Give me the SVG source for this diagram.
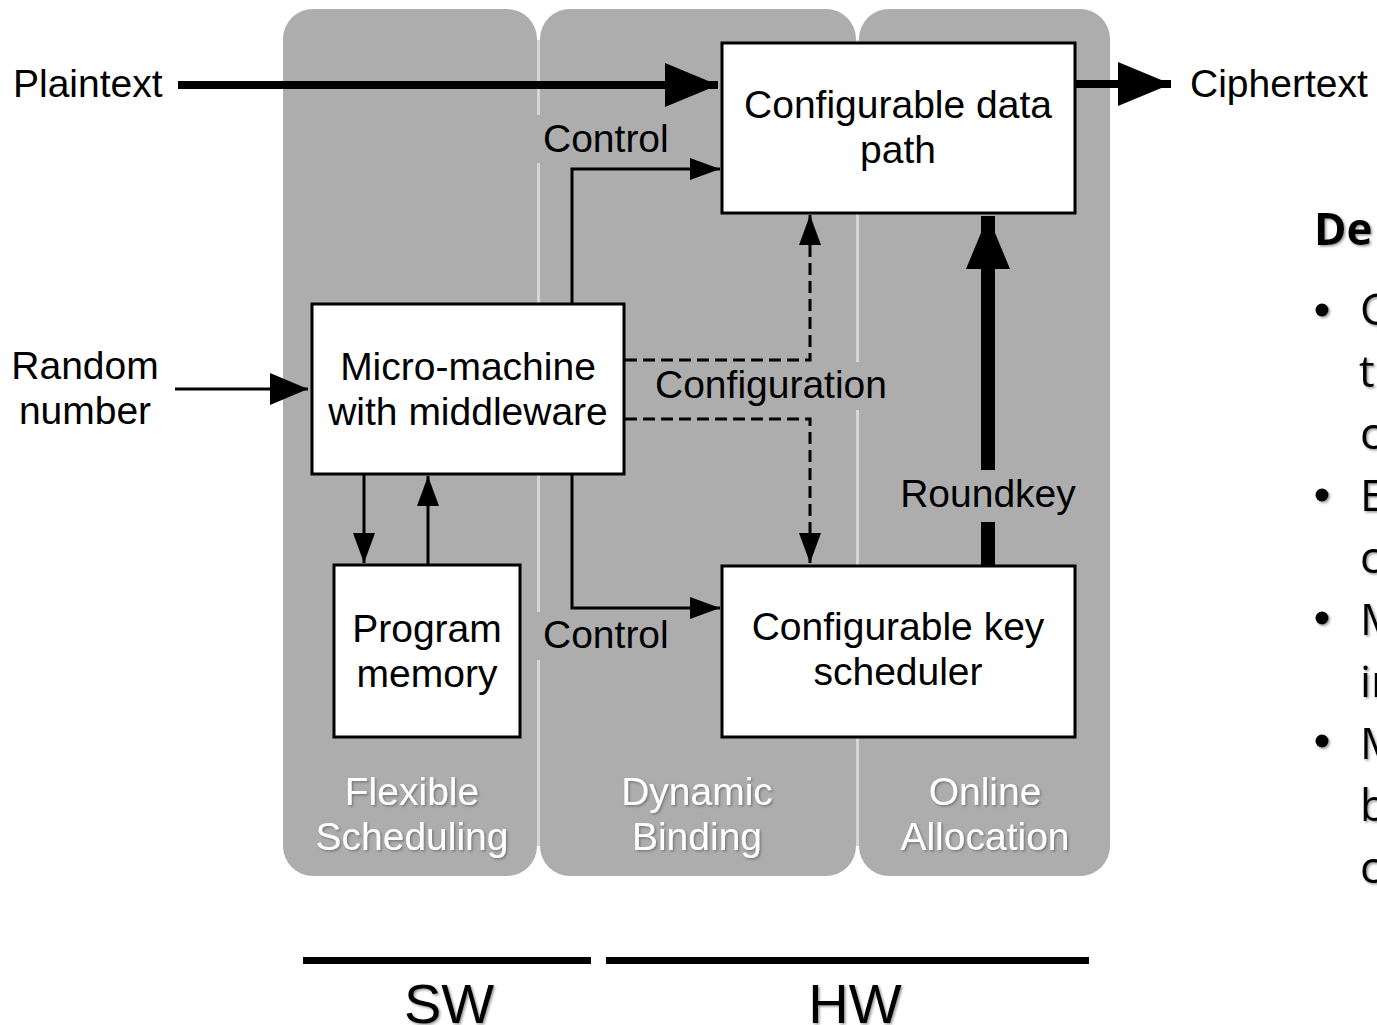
<svg xmlns="http://www.w3.org/2000/svg" width="1377" height="1025" viewBox="0 0 1377 1025">
  <style>
    .col { fill: #adadad; }
    .gap { fill: #d6d6d6; }
    .lblbg { fill: #adadad; }
    .box { fill: #ffffff; stroke: #000; stroke-width: 3; }
    .t { font-family: "Liberation Sans", Arial, sans-serif; font-size: 39px; fill: #000; }
    .c { text-anchor: middle; }
    .colt { font-family: "Liberation Sans", Arial, sans-serif; font-size: 39px; fill: #ffffff; text-anchor: middle; filter: url(#sh); }
    .big { font-family: "Liberation Sans", Arial, sans-serif; font-size: 56px; fill: #000; text-anchor: middle; filter: url(#sh); }
    .side { font-family: "Open Sans", "Noto Sans", sans-serif; font-size: 44px; fill: #000; filter: url(#sh); }
    .hd { font-weight: bold; }
    .dot { fill: #000; filter: url(#sh); }
    .ln { fill: none; stroke: #000; stroke-width: 3; }
    .dash { stroke-dasharray: 12 6; }
    .thick { fill: none; stroke: #000; stroke-width: 8; }
    .rk { fill: none; stroke: #000; stroke-width: 14; }
  </style>
  <defs>
    <filter id="sh" x="-10%" y="-10%" width="130%" height="140%">
      <feDropShadow dx="1.5" dy="1.5" stdDeviation="0.8" flood-color="#555" flood-opacity="0.6"/>
    </filter>
    <marker id="ah" markerUnits="userSpaceOnUse" markerWidth="30" markerHeight="22" refX="30" refY="11" orient="auto">
      <path d="M0,0 L30,11 L0,22 z" fill="#000"/>
    </marker>
    <marker id="ahm" markerUnits="userSpaceOnUse" markerWidth="38" markerHeight="32" refX="38" refY="16" orient="auto">
      <path d="M0,0 L38,16 L0,32 z" fill="#000"/>
    </marker>
    <marker id="ahb" markerUnits="userSpaceOnUse" markerWidth="53" markerHeight="44" refX="53" refY="22" orient="auto">
      <path d="M0,0 L53,22 L0,44 z" fill="#000"/>
    </marker>
  </defs>

  <!-- background lanes -->
  <g id="lanes">
    <rect class="col" x="283" y="9" width="254" height="867" rx="30"/>
    <rect class="col" x="540" y="9" width="316" height="867" rx="30"/>
    <rect class="col" x="859" y="9" width="251" height="867" rx="30"/>
    <rect class="gap" x="537" y="40" width="3" height="806"/>
    <rect class="gap" x="856" y="40" width="3" height="806"/>
    <text class="colt" x="412" y="805">Flexible</text>
    <text class="colt" x="412" y="850">Scheduling</text>
    <text class="colt" x="697" y="805">Dynamic</text>
    <text class="colt" x="697" y="850">Binding</text>
    <text class="colt" x="985" y="805">Online</text>
    <text class="colt" x="985" y="850">Allocation</text>
  </g>

  <!-- connectors -->
  <g id="connectors">
    <path class="thick" d="M178,85 H718" marker-end="url(#ahb)"/>
    <path class="thick" d="M1076,84 H1171" marker-end="url(#ahb)"/>
    <path class="ln" d="M175,389 H308" marker-end="url(#ahm)"/>
    <path class="ln" d="M572,304 V169 H720" marker-end="url(#ah)"/>
    <path class="ln" d="M572,474 V608 H720" marker-end="url(#ah)"/>
    <path class="ln" d="M364,474 V563" marker-end="url(#ah)"/>
    <path class="ln" d="M428,565 V476" marker-end="url(#ah)"/>
    <path class="ln dash" d="M625,360 H810 V215" marker-end="url(#ah)"/>
    <path class="ln dash" d="M625,419 H810 V563" marker-end="url(#ah)"/>
    <path class="rk" d="M988,571 V216" marker-end="url(#ahb)"/>
    <rect class="lblbg" x="532" y="115" width="145" height="48"/>
    <text class="t" x="543" y="152">Control</text>
    <rect class="lblbg" x="532" y="612" width="145" height="48"/>
    <text class="t" x="543" y="648">Control</text>
    <rect class="lblbg" x="648" y="362" width="245" height="48"/>
    <text class="t" x="655" y="398">Configuration</text>
    <rect class="lblbg" x="896" y="470" width="184" height="52"/>
    <text class="t c" x="988" y="507">Roundkey</text>
  </g>

  <!-- blocks -->
  <g id="datapath">
    <rect class="box" x="722" y="43" width="353" height="170"/>
    <text class="t c" x="898" y="118">Configurable data</text>
    <text class="t c" x="898" y="163">path</text>
  </g>
  <g id="micromachine">
    <rect class="box" x="312" y="304" width="312" height="170"/>
    <text class="t c" x="468" y="380">Micro-machine</text>
    <text class="t c" x="468" y="425">with middleware</text>
  </g>
  <g id="progmem">
    <rect class="box" x="334" y="565" width="186" height="172"/>
    <text class="t c" x="427" y="642">Program</text>
    <text class="t c" x="427" y="687">memory</text>
  </g>
  <g id="keysched">
    <rect class="box" x="722" y="566" width="353" height="171"/>
    <text class="t c" x="898" y="640">Configurable key</text>
    <text class="t c" x="898" y="685">scheduler</text>
  </g>

  <!-- external inputs / outputs -->
  <g id="plaintext"><text class="t" x="13" y="97">Plaintext</text></g>
  <g id="ciphertext"><text class="t" x="1190" y="97">Ciphertext</text></g>
  <g id="random">
    <text class="t c" x="85" y="379">Random</text>
    <text class="t c" x="85" y="424">number</text>
  </g>

  <!-- SW / HW split -->
  <g id="partition">
    <rect x="303" y="957" width="288" height="7" fill="#000"/>
    <rect x="606" y="957" width="483" height="7" fill="#000"/>
    <text class="big" x="449" y="1023">SW</text>
    <text class="big" x="855" y="1023">HW</text>
  </g>

  <!-- side notes -->
  <g id="notes">
    <text class="side hd" x="1314" y="245">De</text>
    <circle class="dot" cx="1322" cy="310" r="6.5"/>
    <circle class="dot" cx="1322" cy="495" r="6.5"/>
    <circle class="dot" cx="1322" cy="618" r="6.5"/>
    <circle class="dot" cx="1322" cy="741" r="6.5"/>
    <text class="side" x="1360" y="325">C</text>
    <text class="side" x="1359" y="387">th</text>
    <text class="side" x="1360" y="449">c</text>
    <text class="side" x="1360" y="511">E</text>
    <text class="side" x="1360" y="573">c</text>
    <text class="side" x="1360" y="635">M</text>
    <text class="side" x="1360" y="697">in</text>
    <text class="side" x="1360" y="759">M</text>
    <text class="side" x="1360" y="821">b</text>
    <text class="side" x="1360" y="883">c</text>
  </g>
</svg>
